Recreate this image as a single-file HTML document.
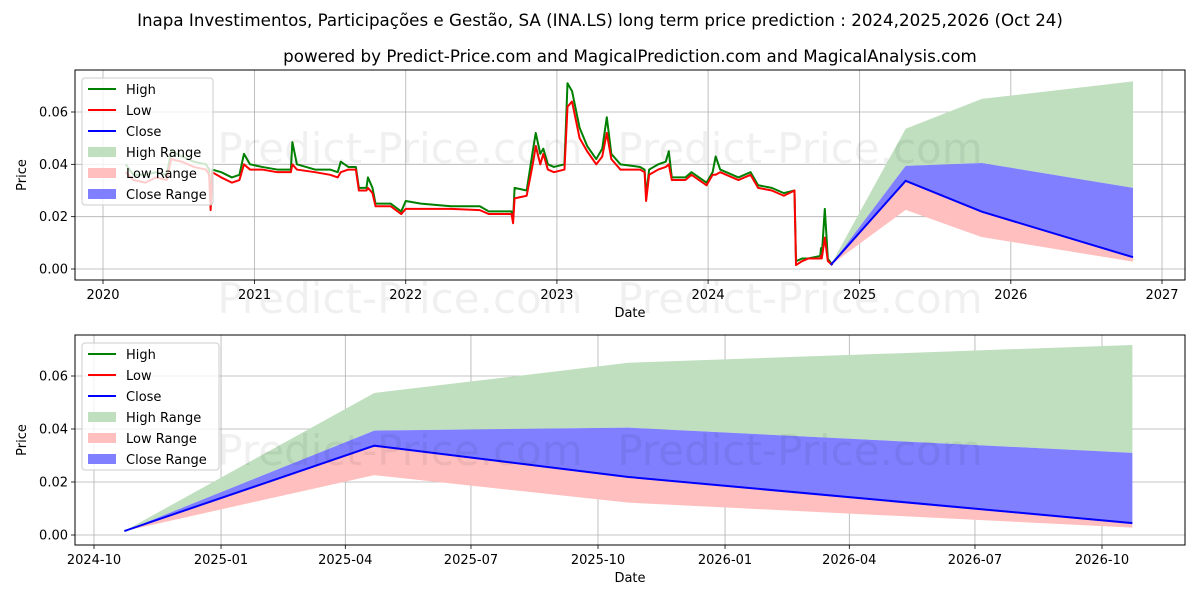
<!DOCTYPE html>
<html><head><meta charset="utf-8"><style>
body{margin:0;background:#fff;}
svg{display:block;font-family:"DejaVu Sans","Liberation Sans",sans-serif;}
</style></head><body>
<svg id="chart" width="1200" height="600" viewBox="0 0 1200 600">
<rect width="1200" height="600" fill="#fff"/>
<text x="600" y="26" text-anchor="middle" font-size="16.7">Inapa Investimentos, Participações e Gestão, SA (INA.LS) long term price prediction : 2024,2025,2026 (Oct 24)</text>
<text x="630" y="62" text-anchor="middle" font-size="16.7">powered by Predict-Price.com and MagicalPrediction.com and MagicalAnalysis.com</text>
<g id="top"></g>
<g id="bot"></g>
</svg>
<script>
const histDates=[2020.15,2020.20,2020.28,2020.35,2020.42,2020.45,2020.52,2020.60,2020.68,2020.70,2020.71,2020.72,2020.78,2020.85,2020.90,2020.93,2020.97,2021.05,2021.15,2021.24,2021.25,2021.28,2021.40,2021.50,2021.55,2021.57,2021.62,2021.67,2021.69,2021.74,2021.75,2021.78,2021.80,2021.90,2021.97,2022.00,2022.10,2022.30,2022.49,2022.55,2022.65,2022.70,2022.71,2022.72,2022.80,2022.84,2022.86,2022.89,2022.91,2022.94,2022.98,2023.05,2023.07,2023.10,2023.15,2023.20,2023.26,2023.30,2023.33,2023.36,2023.42,2023.55,2023.58,2023.59,2023.61,2023.67,2023.72,2023.74,2023.76,2023.85,2023.89,2023.99,2024.03,2024.05,2024.08,2024.20,2024.28,2024.33,2024.42,2024.50,2024.57,2024.58,2024.62,2024.66,2024.74,2024.745,2024.75,2024.77,2024.79,2024.82];
const histLow=[0.037,0.034,0.033,0.035,0.034,0.042,0.041,0.039,0.038,0.036,0.0225,0.037,0.035,0.033,0.034,0.040,0.038,0.038,0.037,0.037,0.040,0.038,0.037,0.036,0.035,0.037,0.038,0.038,0.030,0.030,0.031,0.029,0.024,0.024,0.021,0.023,0.023,0.023,0.0225,0.021,0.021,0.021,0.0175,0.027,0.028,0.040,0.047,0.040,0.044,0.038,0.037,0.038,0.062,0.064,0.050,0.045,0.040,0.043,0.052,0.042,0.038,0.038,0.037,0.026,0.036,0.038,0.039,0.040,0.034,0.034,0.036,0.032,0.036,0.036,0.037,0.034,0.036,0.031,0.030,0.028,0.030,0.0015,0.003,0.004,0.004,0.005,0.004,0.012,0.003,0.0015];
const histHigh=[0.040,0.036,0.036,0.037,0.036,0.045,0.043,0.041,0.040,0.038,0.024,0.038,0.037,0.035,0.036,0.044,0.040,0.039,0.038,0.038,0.0485,0.040,0.038,0.038,0.037,0.041,0.039,0.039,0.031,0.031,0.035,0.031,0.025,0.025,0.022,0.026,0.025,0.024,0.024,0.022,0.022,0.022,0.019,0.031,0.030,0.045,0.052,0.044,0.046,0.040,0.039,0.040,0.071,0.068,0.054,0.047,0.042,0.046,0.058,0.044,0.040,0.039,0.038,0.028,0.038,0.040,0.041,0.045,0.035,0.035,0.037,0.033,0.037,0.043,0.038,0.035,0.037,0.032,0.031,0.029,0.030,0.003,0.004,0.004,0.005,0.008,0.005,0.023,0.004,0.0015];
const predDates=["2024-10-23","2025-04-22","2025-10-23","2026-10-23"];
const predHighUpper=[0.0015,0.0536,0.065,0.0717];
const predCloseUpper=[0.0015,0.0394,0.0405,0.031];
const predClose=[0.0015,0.0337,0.0219,0.0045];
const predLowLower=[0.0015,0.0226,0.0122,0.0028];
const topTickLabels=["2020","2021","2022","2023","2024","2025","2026","2027"];
const botTickLabels=["2024-10","2025-01","2025-04","2025-07","2025-10","2026-01","2026-04","2026-07","2026-10"];
const yTickValues=[0,0.02,0.04,0.06];

const NS="http://www.w3.org/2000/svg";
function mk(parent,tag,attrs){const e=document.createElementNS(NS,tag);for(const k in attrs)e.setAttribute(k,attrs[k]);parent.appendChild(e);return e;}
function ymd(s){const p=s.split("-").map(Number);return Date.UTC(p[0],p[1]-1,p[2]||1);}
function decYear(d){const y=Math.floor(d);const a=Date.UTC(y,0,1),b=Date.UTC(y+1,0,1);return a+(d-y)*(b-a);}

function panel(g,cfg){
  const L=75,R=1185,T=cfg.top,B=cfg.bottom;
  const xs=t=>cfg.x0+(t-cfg.t0)/(cfg.t1-cfg.t0)*(cfg.x1-cfg.x0);
  const ys=v=>cfg.y0px-(v/0.06)*(cfg.y0px-cfg.y6px);
  const clip="clip"+cfg.id;
  const defs=mk(g,"defs",{});const cp=mk(defs,"clipPath",{id:clip});mk(cp,"rect",{x:L,y:T,width:R-L,height:B-T});
  cfg.ticks.forEach((lab,i)=>{const x=xs(cfg.tickTimes[i]);
    const gl=mk(g,"line",{x1:x,x2:x,y1:T,y2:B,stroke:"#b0b0b0","stroke-width":0.8});
    
    
    mk(g,"line",{x1:x,x2:x,y1:B,y2:B+4,stroke:"#000","stroke-width":0.8});
    const t=mk(g,"text",{x:x,y:B+19,"text-anchor":"middle","font-size":13});t.textContent=lab;
    
    
  });
  yTickValues.forEach(v=>{const y=ys(v);
    const gl=mk(g,"line",{x1:L,x2:R,y1:y,y2:y,stroke:"#b0b0b0","stroke-width":0.8});
    
    
    mk(g,"line",{x1:L-4,x2:L,y1:y,y2:y,stroke:"#000","stroke-width":0.8});
    const t=mk(g,"text",{x:L-7,y:y+4.5,"text-anchor":"end","font-size":13});t.textContent=v.toFixed(2);
    
    
  });
  const pg=mk(g,"g",{"clip-path":"url(#"+clip+")"});
  const pt=predDates.map(ymd);
  function band(up,lo,color,name){
    let d="M"+pt.map((t,i)=>xs(t)+","+ys(up[i])).join("L");
    for(let i=pt.length-1;i>=0;i--)d+="L"+xs(pt[i])+","+ys(lo[i]);
    const p=mk(pg,"path",{d:d+"Z",fill:color,stroke:"none"});
    
    
  }
  band(predHighUpper,predCloseUpper,"#bfdfbf","high-range-band");
  band(predClose,predLowLower,"#ffbfbf","low-range-band");
  band(predCloseUpper,predClose,"#7f7fff","close-range-band");
  if(cfg.hist){
    const ht=histDates.map(decYear);
    const hl=mk(pg,"polyline",{points:ht.map((t,i)=>xs(t)+","+ys(histHigh[i])).join(" "),fill:"none",stroke:"#008000","stroke-width":2,"stroke-linejoin":"round"});
    
    
    const ll=mk(pg,"polyline",{points:ht.map((t,i)=>xs(t)+","+ys(histLow[i])).join(" "),fill:"none",stroke:"#ff0000","stroke-width":2,"stroke-linejoin":"round"});
    
    
  }
  const cl=mk(pg,"polyline",{points:pt.map((t,i)=>xs(t)+","+ys(predClose[i])).join(" "),fill:"none",stroke:"#0000ff","stroke-width":2});
  
  
  cfg.wm.forEach(w=>{const t=mk(g,"text",{x:w[0],y:w[1],"text-anchor":"middle","font-size":42,fill:"#000","fill-opacity":0.06});t.textContent="Predict-Price.com";
    
    });
  const fr=mk(g,"rect",{x:L,y:T,width:R-L,height:B-T,fill:"none",stroke:"#000","stroke-width":1});
  
  
  const xl=mk(g,"text",{x:(L+R)/2,y:B+37,"text-anchor":"middle","font-size":13});xl.textContent="Date";
  
  
  const yl=mk(g,"text",{x:0,y:0,"text-anchor":"middle","font-size":13,transform:"translate(26,"+((T+B)/2)+") rotate(-90)"});yl.textContent="Price";
  
  
  const lx=82,ly=T+8,lw=cfg.legW;
  const lg=mk(g,"g",{});
  
  
  mk(lg,"rect",{x:lx,y:ly,width:lw,height:127,rx:3,fill:"#fff","fill-opacity":0.8,stroke:"#ccc"});
  const items=[["High","line","#008000"],["Low","line","#ff0000"],["Close","line","#0000ff"],["High Range","box","#bfdfbf"],["Low Range","box","#ffbfbf"],["Close Range","box","#7f7fff"]];
  items.forEach((it,i)=>{const cy=ly+11+i*21;
    if(it[1]=="line")mk(lg,"line",{x1:lx+6,x2:lx+34,y1:cy,y2:cy,stroke:it[2],"stroke-width":2});
    else mk(lg,"rect",{x:lx+6,y:cy-5,width:28,height:10,fill:it[2]});
    const t=mk(lg,"text",{x:lx+44,y:cy+5,"font-size":13});t.textContent=it[0];
    
    
  });
}
panel(document.getElementById("top"),{id:"t",top:70,bottom:280,t0:Date.UTC(2020,0,1),t1:Date.UTC(2027,0,1),x0:103,x1:1162,y0px:269,y6px:112,
  ticks:topTickLabels,tickTimes:topTickLabels.map(s=>Date.UTC(+s,0,1)),hist:true,legW:131,
  wm:[[400,163],[800,163],[400,313],[800,313]]});
panel(document.getElementById("bot"),{id:"b",top:335,bottom:545,t0:Date.UTC(2024,9,1),t1:Date.UTC(2026,9,1),x0:94,x1:1102,y0px:535,y6px:376,
  ticks:botTickLabels,tickTimes:botTickLabels.map(ymd),hist:false,legW:137,
  wm:[[400,465],[800,465]]});
</script>
</body></html>
